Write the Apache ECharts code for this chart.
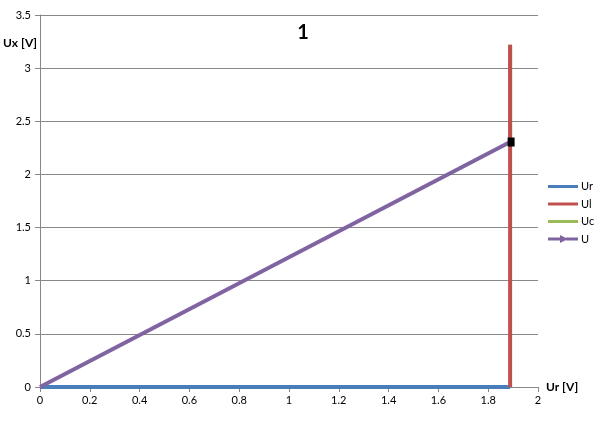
<!DOCTYPE html>
<html><head><meta charset="utf-8">
<script src="https://cdn.jsdelivr.net/npm/echarts@6/dist/echarts.min.js"></script>
<style>html,body{margin:0;padding:0;background:#fff}#c{width:606px;height:424px}</style>
</head><body><div id="c"></div>
<script>
var seriesNames = ['Ur', 'Ul', 'Uc', 'U'];
var urData = [[0, 0], [1.888, 0]];
var ulData = [[1.888, 0], [1.888, 3.22]];
var ucData = [[1.888, 3.22], [1.888, 2.305]];
var uData = [[0, 0], [1.888, 2.305]];
var xTicks = {min: 0, max: 2, interval: 0.2};
var yTicks = {min: 0, max: 3.5, interval: 0.5};
var titleText = '1';
var xName = 'Ur [V]';
var yName = 'Ux [V]';

var colors = ['#4a7ebb', '#c0504d', '#9bbb59', '#8064a2'];
var lineIcon = 'path://M0,0 M0,10 M0,3.5 L30,3.5 L30,6.5 L0,6.5 Z';
var arrowIcon = 'path://M0,0 M0,10 M0,3.5 L12,3.5 L12,1 L20,5 L12,9 L12,6.5 L0,6.5 Z M18,3.5 L30,3.5 L30,6.5 L18,6.5 Z';
var font = 'Lato, "Liberation Sans", sans-serif';

var chart = echarts.init(document.getElementById('c'), null, {renderer: 'canvas'});
var axisLine = {show: true, lineStyle: {color: '#888', width: 1}};
chart.setOption({
  animation: false,
  textStyle: {fontFamily: font},
  title: {text: titleText, left: 'center', top: 18,
    textStyle: {fontSize: 20, fontWeight: 'bold', color: '#000', fontFamily: font}},
  grid: {left: 40, right: 68, top: 15, bottom: 37},
  legend: {
    orient: 'vertical', left: 543, top: 176, itemWidth: 30, itemHeight: 10, itemGap: 6.5,
    textStyle: {fontSize: 11, color: '#000', fontFamily: font, padding: [0, 0, 0, -2]},
    data: [
      {name: 'Ur', icon: lineIcon},
      {name: 'Ul', icon: lineIcon},
      {name: 'Uc', icon: lineIcon},
      {name: 'U', icon: arrowIcon}
    ]
  },
  xAxis: {
    type: 'value', min: xTicks.min, max: xTicks.max, interval: xTicks.interval,
    name: xName, nameLocation: 'end', nameGap: 8,
    nameTextStyle: {fontSize: 12, fontWeight: 'bold', color: '#000', fontFamily: font, verticalAlign: 'middle', align: 'left', padding: [0, 0, 0, 0]},
    axisLine: axisLine,
    axisTick: {show: true, length: 5, inside: false, lineStyle: {color: '#888'}},
    axisLabel: {fontSize: 11, color: '#000', margin: 8, fontFamily: font},
    splitLine: {show: false}
  },
  yAxis: {
    type: 'value', min: yTicks.min, max: yTicks.max, interval: yTicks.interval,
    axisLine: axisLine,
    axisTick: {show: true, length: 5, inside: false, lineStyle: {color: '#888'}},
    axisLabel: {fontSize: 11, color: '#000', margin: 9, fontFamily: font},
    splitLine: {show: true, lineStyle: {color: '#888', width: 1}}
  },
  graphic: [
    {type: 'text', left: 3, top: 37, style: {text: yName, font: 'bold 12px ' + font, fill: '#000'}}
  ],
  series: [
    {name: 'Ur', type: 'line', data: urData, symbol: 'none', color: colors[0], lineStyle: {width: 4, color: colors[0]}, z: 3},
    {name: 'Ul', type: 'line', data: ulData, symbol: 'none', color: colors[1], lineStyle: {width: 4, color: colors[1]}, z: 4},
    {name: 'Uc', type: 'line', data: ucData, symbol: 'none', color: colors[2], lineStyle: {width: 4, color: colors[2]}, z: 2},
    {name: 'U', type: 'line', color: colors[3], lineStyle: {width: 4, color: colors[3]}, z: 5,
      data: [
        {value: uData[0], symbol: 'none'},
        {value: uData[1], symbol: 'rect', symbolSize: [7, 9], symbolOffset: [1, 0], itemStyle: {color: '#000'}}
      ]
    }
  ]
});
</script></body></html>
